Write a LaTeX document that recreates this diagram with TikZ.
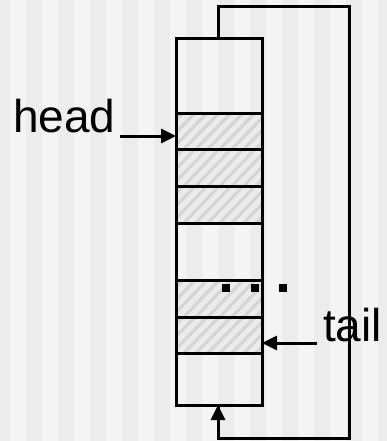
\documentclass[tikz,border=0pt]{standalone}
\usepackage{fontspec}
\setmainfont{Liberation Sans}
\usetikzlibrary{arrows.meta}
\definecolor{bgA}{HTML}{F4F4F4}
\definecolor{bgB}{HTML}{ECECEC}
\definecolor{hatchbg}{HTML}{EBEBEB}
\definecolor{hatchln}{HTML}{D4D4D4}
\tikzset{
  wire/.style={line width=3pt, black},
  arr/.style={wire, -{Triangle[length=15pt,width=14pt]}},
  lbl/.style={font=\fontsize{46pt}{46pt}\selectfont, inner sep=0pt, anchor=base west},
  dotsq/.style={fill=black, minimum size=8pt, inner sep=0pt},
}
\begin{document}
\begin{tikzpicture}[x=1pt,y=-1pt]
\useasboundingbox (0,0) rectangle (386,441);
% background stripes
\fill[bgA] (0,0) rectangle (386,441);
\foreach \k in {-1,0,...,11} {
  \fill[bgB] ({26+32*\k},0) rectangle ({42+32*\k},441);
}
% hatched cells
\foreach \ya/\yb in {113/149,149/186,186/223,280/317,317/353} {
  \begin{scope}
    \clip (176,\ya) rectangle (262,\yb);
    \fill[hatchbg] (176,\ya) rectangle (262,\yb);
    \foreach \s in {0,12,...,140} {
      \draw[hatchln, line width=3pt] ({176+\s-45},\yb+5) -- ({176+\s},\ya-5);
    }
  \end{scope}
}
% column cells
\coordinate (tl) at (176,39);
\coordinate (br) at (262,405);
\draw[wire] (tl) rectangle (br);
\foreach \y in {113,149,186,223,280,317,353} {
  \draw[wire] (176,\y) -- (262,\y);
}
% loop
\coordinate (ltop) at (218,39);
\coordinate (lbot) at (218,405);
\coordinate (c1) at (218,7);
\coordinate (c2) at (349,7);
\coordinate (c3) at (349,438);
\coordinate (c4) at (218,438);
\draw[wire] (ltop) -- (c1) -- (c2) -- (c3) -- (c4) -- (lbot);
\draw[arr] (c4) -- (lbot);
% labels
\node[lbl] (head) at (13,132) {head};
\coordinate (headend) at (120,136);
\coordinate (headtip) at (176,136);
\draw[arr] (headend) -- (headtip);
\node[lbl] (tail) at (323,341) {tail};
\coordinate (tailend) at (317,343);
\coordinate (tailtip) at (262,343);
\draw[arr] (tailend) -- (tailtip);
% dots
\node[dotsq] (d1) at (226,288) {};
\node[dotsq] (d2) at (254.5,288) {};
\node[dotsq] (d3) at (283,288) {};
\end{tikzpicture}
\end{document}
